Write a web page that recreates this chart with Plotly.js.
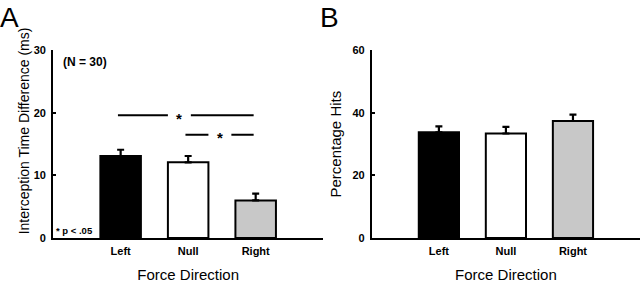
<!DOCTYPE html>
<html>
<head>
<meta charset="utf-8">
<script src="https://cdn.plot.ly/plotly-3.0.1.min.js"></script>
<style>html,body{margin:0;padding:0;background:#fff;}#chart{width:640px;height:284px;}</style>
</head>
<body>
<div id="chart"></div>
<script>
// ---- data ----
const categories = ["Left", "Null", "Right"];
const barColors = ["#000000", "#ffffff", "#c8c8c8"];
const timeDiff = [13.1, 12.1, 6.0];      // Interception Time Difference (ms)
const timeDiffSE = [1.0, 1.0, 1.1];
const pctHits = [33.8, 33.4, 37.4];     // Percentage Hits
const pctHitsSE = [1.9, 2.1, 2.0];
// significance brackets (panel A): from category index, to category index, level, star position
const sigFrom = [0, 1];
const sigTo = [2, 2];
const sigLevel = [19.6, 16.5];
const sigStar = [0.87, 1.47];

const FONT = "Liberation Sans, Arial, sans-serif";

function barTrace(vals, se, xa, ya) {
  return {
    type: "bar",
    x: [0, 1, 2],
    y: vals,
    xaxis: xa, yaxis: ya,
    width: 0.6,
    marker: {color: barColors, line: {color: "#000", width: 2}},
    error_y: {type: "data", array: se, arrayminus: se.map(() => 0), symmetric: false,
              color: "#000", thickness: 2.2, width: 3.5},
    showlegend: false, hoverinfo: "skip"
  };
}

const data = [
  barTrace(timeDiff, timeDiffSE, "x", "y"),
  barTrace(pctHits, pctHitsSE, "x2", "y2")
];

const yDom = [0.162, 0.823];
function xAxis(dom) {
  return {
    domain: dom, range: [-1, 3], tickvals: [0, 1, 2], ticktext: categories,
    showline: true, linecolor: "#000", linewidth: 2, ticks: "", showgrid: false, zeroline: false,
    tickfont: {family: FONT, size: 11, color: "#000", weight: "bold"},
    ticklabelstandoff: 2,
    title: {text: "Force Direction", font: {family: FONT, size: 15, color: "#000"}, standoff: 13},
    fixedrange: true
  };
}
function yAxis(range, dtick, title, anchor, standoff) {
  return {
    domain: yDom, range: range, dtick: dtick, anchor: anchor,
    showline: true, linecolor: "#000", linewidth: 2, ticks: "inside", ticklen: 3, tickwidth: 2, tickcolor: "#000",
    showgrid: false, zeroline: false,
    tickfont: {family: FONT, size: 11, color: "#000", weight: "bold"},
    ticklabelstandoff: 3,
    title: {text: title, font: {family: FONT, size: 15, color: "#000"}, standoff: standoff},
    fixedrange: true
  };
}

const shapes = [];
const annotations = [];
for (let i = 0; i < sigFrom.length; i++) {
  const a = sigFrom[i] - 0.04, b = sigTo[i] - 0.03, s = sigStar[i], gap = 0.17;
  shapes.push({type: "line", xref: "x", yref: "y", x0: a, x1: s - gap, y0: sigLevel[i], y1: sigLevel[i], line: {color: "#000", width: 2}});
  shapes.push({type: "line", xref: "x", yref: "y", x0: s + gap, x1: b, y0: sigLevel[i], y1: sigLevel[i], line: {color: "#000", width: 2}});
  annotations.push({xref: "x", yref: "y", x: s, y: sigLevel[i], text: "*", showarrow: false, yanchor: "middle", yshift: -3,
                    font: {family: FONT, size: 15, color: "#000", weight: "bold"}});
}
annotations.push({xref: "x", yref: "y", x: -0.88, y: 28.2, text: "(N = 30)", showarrow: false, xanchor: "left",
                  font: {family: FONT, size: 12, color: "#000", weight: "bold"}});
annotations.push({xref: "x", yref: "y", x: -0.98, y: 1.2, text: "* p < .05", showarrow: false, xanchor: "left",
                  font: {family: FONT, size: 9.5, color: "#000", weight: "bold"}});
annotations.push({xref: "paper", yref: "paper", x: -0.003, y: 1.0, text: "A", showarrow: false, xanchor: "left", yanchor: "top",
                  font: {family: FONT, size: 28, color: "#000"}});
annotations.push({xref: "paper", yref: "paper", x: 0.497, y: 1.0, text: "B", showarrow: false, xanchor: "left", yanchor: "top",
                  font: {family: FONT, size: 28, color: "#000"}});
// panel A y-axis title (placed slightly above the axis centre, as in the original)
annotations.push({xref: "paper", yref: "paper", x: 0.037, y: 0.54, text: "Interception Time Difference (ms)", textangle: -90,
                  showarrow: false, xanchor: "center", yanchor: "middle",
                  font: {family: FONT, size: 14, color: "#000"}});

const layout = {
  width: 640, height: 284,
  margin: {l: 0, r: 0, t: 0, b: 0},
  paper_bgcolor: "#fff", plot_bgcolor: "#fff",
  bargap: 0.4,
  xaxis: Object.assign(xAxis([0.083, 0.505]), {anchor: "y"}),
  yaxis: yAxis([0, 30], 10, "", "x", 4),
  xaxis2: Object.assign(xAxis([0.581, 1.0]), {anchor: "y2"}),
  yaxis2: yAxis([0, 60], 20, "Percentage Hits", "x2", 7),
  shapes: shapes,
  annotations: annotations
};

Plotly.newPlot("chart", data, layout, {staticPlot: true, displayModeBar: false});
</script>
</body>
</html>
